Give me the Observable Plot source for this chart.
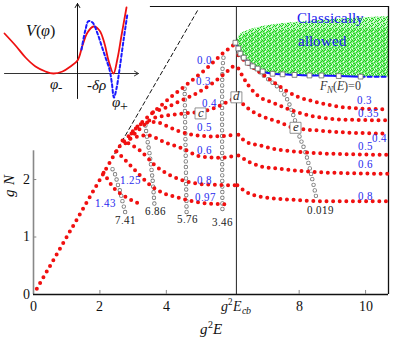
<!DOCTYPE html>
<html>
<head>
<meta charset="utf-8">
<script src="https://cdn.jsdelivr.net/npm/d3@7"></script>
<script src="https://cdn.jsdelivr.net/npm/@observablehq/plot@0.6"></script>
<style>
  @font-face { font-family: "PaperSerif"; font-style: normal; font-weight: 400;
    src: local("Liberation Serif"), local("LiberationSerif"), local("DejaVu Serif"), local("DejaVuSerif"); }
  @font-face { font-family: "PaperSerif"; font-style: italic; font-weight: 400;
    src: local("Liberation Serif Italic"), local("LiberationSerif-Italic"), local("DejaVu Serif Italic"), local("DejaVuSerif-Italic"); }
  @font-face { font-family: "PaperSerif"; font-style: normal; font-weight: 700;
    src: local("Liberation Serif Bold"), local("LiberationSerif-Bold"), local("DejaVu Serif Bold"), local("DejaVuSerif-Bold"); }
  html,body{margin:0;padding:0;background:#fff;}
  #wrap{position:relative;width:411px;height:345px;overflow:hidden;}
  #wrap svg{position:absolute;left:0;top:0;}
  #wrap svg, #wrap svg text, #wrap svg tspan{font-family:"PaperSerif","Liberation Serif","DejaVu Serif","Noto Serif",Tinos,Times,serif !important;}
</style>
</head>
<body>
<div id="wrap"></div>
<script>
const SERIF = "PaperSerif, Liberation Serif, DejaVu Serif, serif";

// ---------- axes ----------
const xTickValues = [0, 2, 4, 8, 10];
const xTickLabels = ["0", "2", "4", "8", "10"];
const ecbValue = 6.11;
const yTickValues = [0, 1, 2];
const yTickLabels = ["0", "1", "2"];

// ---------- red dotted curves (g^2 E , g N) ----------
const mainX = [0.10, 2.55, 3.07, 3.52, 4.19, 4.70, 5.21, 5.69, 6.11];
const mainY = [0.10, 2.55, 2.89, 3.13, 3.46, 3.69, 3.93, 4.19, 4.38];

const l03X = [3.60, 3.98, 4.43, 4.94, 5.42, 5.75, 6.11];
const l03Y = [3.17, 3.25, 3.37, 3.51, 3.69, 3.84, 4.02];
const l04X = [2.77, 3.22, 3.58, 3.98, 4.52, 5.03, 5.48, 5.87, 6.11];
const l04Y = [2.63, 2.89, 3.06, 3.11, 3.15, 3.18, 3.25, 3.36, 3.43];
const l05X = [2.95, 3.30, 3.67, 3.98, 4.34, 4.79, 5.39, 6.11];
const l05Y = [2.80, 2.98, 3.00, 2.94, 2.85, 2.78, 2.75, 2.78];
const l06X = [2.92, 3.43, 3.98, 4.49, 5.03, 5.63, 6.11];
const l06Y = [2.71, 2.77, 2.64, 2.54, 2.40, 2.38, 2.42];
const l08X = [2.68, 3.22, 3.67, 4.13, 4.73, 5.33, 6.11];
const l08Y = [2.68, 2.50, 2.24, 2.07, 1.95, 1.91, 1.90];
const l125X = [2.50, 2.71, 3.13, 3.52, 3.92, 4.34, 4.73, 5.33, 5.93];
const l125Y = [2.49, 2.37, 2.12, 1.90, 1.76, 1.69, 1.63, 1.58, 1.57];
const l143X = [2.11, 2.41, 2.77, 3.22];
const l143Y = [2.12, 1.86, 1.70, 1.57];

const r03X = [6.17, 6.54, 6.90, 7.29, 7.65, 7.95, 8.43, 9.46, 10.66];
const r03Y = [4.16, 3.98, 3.83, 3.67, 3.53, 3.44, 3.36, 3.25, 3.22];
const r035X = [6.17, 6.48, 6.75, 7.20, 7.65, 8.43, 9.46, 10.66];
const r035Y = [3.93, 3.63, 3.46, 3.34, 3.23, 3.10, 3.04, 3.03];
const r04X = [6.17, 6.48, 6.84, 7.44, 7.83, 8.64, 9.34, 10.66];
const r04Y = [3.39, 3.23, 3.11, 2.99, 2.90, 2.85, 2.82, 2.80];
const r05X = [6.17, 6.39, 6.84, 7.35, 7.83, 8.86, 10.66];
const r05Y = [2.78, 2.66, 2.59, 2.52, 2.49, 2.45, 2.43];
const r06X = [6.17, 6.48, 6.84, 7.35, 7.83, 8.86, 10.66];
const r06Y = [2.42, 2.31, 2.23, 2.19, 2.16, 2.12, 2.10];
const r08X = [6.14, 6.45, 6.84, 7.74, 8.86, 10.66];
const r08Y = [1.90, 1.77, 1.70, 1.65, 1.62, 1.62];

// ---------- open-circle curves ----------
const c741X = [2.38, 2.47, 2.53, 2.62, 2.68, 2.77];
const c741Y = [2.18, 2.07, 1.93, 1.77, 1.62, 1.41];
const c686X = [3.37, 3.43, 3.49, 3.58, 3.64];
const c686Y = [2.94, 2.68, 2.47, 2.03, 1.58];
const c576X = [4.55, 4.58, 4.61];
const c576Y = [3.58, 2.50, 1.43];
const c346X = [5.72, 5.69, 5.69];
const c346Y = [4.12, 3.90, 1.46];
const c0019X = [6.17, 6.93, 7.53, 7.83, 7.98, 8.19, 8.37, 8.52];
const c0019Y = [4.19, 3.81, 3.50, 3.11, 2.80, 2.47, 2.07, 1.67];

// ---------- F_N(E)=0 boundary & classically allowed region ----------
const boundaryX = [6.08, 6.17, 6.23, 6.33, 6.45, 6.60, 6.75, 6.90, 7.20, 7.50, 7.86, 8.31, 8.67, 9.19, 9.85];
const boundaryY = [4.38, 4.28, 4.19, 4.12, 4.03, 3.97, 3.93, 3.88, 3.84, 3.83, 3.82, 3.81, 3.81, 3.80, 3.79];
const boundaryTailX = [9.85, 10.69];
const boundaryTailY = [3.79, 3.79];
const allowedX = [6.08, 6.17, 6.23, 6.33, 6.45, 6.60, 6.75, 6.90, 7.20, 7.50, 7.86, 8.31, 8.67, 9.19, 9.85, 10.69];
const allowedLow = [4.38, 4.28, 4.19, 4.12, 4.03, 3.97, 3.93, 3.88, 3.84, 3.83, 3.82, 3.81, 3.81, 3.80, 3.79, 3.79];
const allowedMid = [4.40, 4.44, 4.47, 4.50, 4.53, 4.55, 4.56, 4.57, 4.58, 4.59, 4.60, 4.61, 4.62, 4.63, 4.63, 4.64];
const allowedHigh = [4.40, 4.47, 4.52, 4.56, 4.59, 4.62, 4.64, 4.66, 4.69, 4.71, 4.73, 4.75, 4.77, 4.79, 4.81, 4.83];

const diagX = [2.45, 4.97];
const diagY = [2.45, 4.97];

// ---------- labels ----------
const leftLabels = ["0.0", "0.3", "0.4", "0.5", "0.6", "0.8", "0.97", "1.25", "1.43"];
const leftLabelX = [5.15, 5.12, 5.30, 5.15, 5.15, 5.15, 5.18, 2.92, 2.17];
const leftLabelY = [4.07, 3.70, 3.32, 2.90, 2.50, 1.98, 1.69, 1.98, 1.58];
const rightLabels = ["0.3", "0.35", "0.4", "0.5", "0.6", "0.8"];
const rightLabelX = [9.97, 10.09, 10.42, 10.00, 10.00, 10.00];
const rightLabelY = [3.37, 3.15, 2.71, 2.57, 2.26, 1.70];
const circleLabels = ["7.41", "6.86", "5.76", "3.46", "0.019"];
const circleLabelX = [2.77, 3.67, 4.64, 5.69, 8.64];
const circleLabelY = [1.29, 1.44, 1.30, 1.25, 1.46];
const boxLetters = ["c", "d", "e"];
const boxX = [5.03, 6.11, 7.89];
const boxY = [3.15, 3.43, 2.90];

// ---------- inset potential ----------
const potX = [-3.65, -3.1, -2.6, -2.1, -1.6, -1.2, -0.75, -0.35, 0, 0.25, 0.5, 0.8, 1.1, 1.35, 1.55, 1.8, 2.0, 2.2, 2.45];
const potY = [2.0, 1.4, 0.8, 0.35, 0.1, 0, 0.1, 0.35, 0.65, 1.4, 2.05, 2.35, 2.15, 1.5, 0.65, 0, 0.75, 1.9, 3.3];
const dashPotX = [0.2, 0.4, 0.55, 0.75, 1.0, 1.2, 1.4, 1.6, 1.72, 1.82, 1.95, 2.1, 2.3, 2.5];
const dashPotY = [1.2, 2.2, 2.62, 2.55, 2.0, 1.4, 0.8, 0.2, -0.5, -1.2, -0.75, 0.2, 1.65, 3.0];

// ---------- helpers ----------
function rows(id, xs, ys) { return xs.map((x, i) => ({id, x, y: ys[i]})); }
function labelRows(texts, xs, ys) { return texts.map((t, i) => ({t, x: xs[i], y: ys[i]})); }

const redRows = [
  ...rows("l03", l03X, l03Y), ...rows("l04", l04X, l04Y), ...rows("l05", l05X, l05Y),
  ...rows("l06", l06X, l06Y), ...rows("l08", l08X, l08Y), ...rows("l125", l125X, l125Y),
  ...rows("l143", l143X, l143Y),
  ...rows("r03", r03X, r03Y), ...rows("r035", r035X, r035Y), ...rows("r04", r04X, r04Y),
  ...rows("r05", r05X, r05Y), ...rows("r06", r06X, r06Y), ...rows("r08", r08X, r08Y)
];
const mainRows = rows("main", mainX, mainY);
const circRows = [
  ...rows("c741", c741X, c741Y), ...rows("c686", c686X, c686Y), ...rows("c576", c576X, c576Y),
  ...rows("c346", c346X, c346Y), ...rows("c0019", c0019X, c0019Y)
];
const bRows = rows("b", boundaryX, boundaryY);
const bTail = rows("bt", boundaryTailX, boundaryTailY);
const greenRows = allowedX.map((x, i) => ({x, lo: allowedLow[i], mid: allowedMid[i], hi: allowedHigh[i]}));
const diagRows = rows("d", diagX, diagY);

const RED = "#f01010", BLUE = "#2a2aee", GRAYC = "#777";
const redDots = {x: "x", y: "y", stroke: RED, strokeWidth: 4, strokeLinecap: "round", strokeDasharray: "0 6.6"};
const TXT = {fontFamily: SERIF};

const main = Plot.plot({
  width: 411, height: 345,
  marginLeft: 33, marginRight: 23, marginTop: 6, marginBottom: 51,
  x: {domain: [0, 10.69], axis: null},
  y: {domain: [0, 5.01], axis: null},
  style: {background: "transparent", overflow: "visible", fontFamily: SERIF},
  marks: [
    Plot.areaY(greenRows, {x: "x", y1: "lo", y2: "hi", fill: "#b4f4b4", curve: "monotone-x"}),
    Plot.areaY(greenRows, {x: "x", y1: "lo", y2: "mid", fill: "#86ec86", curve: "monotone-x"}),
    Plot.areaY(greenRows, {x: "x", y1: "lo", y2: "hi", fill: "#010101", curve: "monotone-x"}),
    // frame
    Plot.ruleX([0], {y1: 0, y2: 2.5, stroke: "#888", strokeWidth: 1.6}),
    Plot.ruleY([0], {x1: 0, x2: 10.69, stroke: "#111", strokeWidth: 1.3}),
    Plot.ruleX([10.69], {y1: 0, y2: 5.01, stroke: "#111", strokeWidth: 1.3}),
    Plot.ruleY([5.01], {x1: 3.52, x2: 10.69, stroke: "#111", strokeWidth: 1}),
    Plot.ruleX([ecbValue], {y1: 0, y2: 5.01, stroke: "#222", strokeWidth: 1}),
    Plot.ruleX(xTickValues.filter(v => v > 0), {y1: 0, y2: 0.07, stroke: "#888"}),
    Plot.ruleY(yTickValues.filter(v => v > 0), {x1: 0, x2: 0.1, stroke: "#888"}),
    // tick labels
    Plot.text(xTickValues, {...TXT, x: d => d, text: (d, i) => xTickLabels[i], frameAnchor: "bottom", dy: 16, fontSize: 14, fill: "#111"}),
    Plot.text([ecbValue], {...TXT, x: d => d, text: () => "@ECB", frameAnchor: "bottom", dy: 16, fontSize: 14, fill: "#111"}),
    Plot.text(yTickValues, {...TXT, y: d => d, text: (d, i) => yTickLabels[i], frameAnchor: "left", dx: -11, fontSize: 14, fill: "#111"}),
    Plot.text(["g N"], {...TXT, y: 1.69, frameAnchor: "left", dx: -24, rotate: -90, fontSize: 15, fontStyle: "italic", fill: "#111"}),
    Plot.text(["@XLAB"], {...TXT, x: 5.36, frameAnchor: "bottom", dy: 39, fontSize: 15, fill: "#111"}),
    // diagonal dashed
    Plot.line(diagRows, {x: "x", y: "y", stroke: "#111", strokeWidth: 1, strokeDasharray: "4 3"}),
    // open circles
    Plot.line(circRows, {x: "x", y: "y", z: "id", stroke: GRAYC, strokeWidth: 4.4, strokeLinecap: "round", strokeDasharray: "0 5.6", curve: "catmull-rom"}),
    Plot.line(circRows, {x: "x", y: "y", z: "id", stroke: "white", strokeWidth: 2.7, strokeLinecap: "round", strokeDasharray: "0 5.6", curve: "catmull-rom"}),
    // red dots
    Plot.line(mainRows, {...redDots}),
    Plot.line(redRows, {...redDots, z: "id", curve: "monotone-x"}),
    // boundary
    Plot.line(bRows, {x: "x", y: "y", stroke: "#1515ff", strokeWidth: 2, curve: "monotone-x"}),
    Plot.line(bTail, {x: "x", y: "y", stroke: "#1515ff", strokeWidth: 2, strokeDasharray: "4 3"}),
    Plot.dot(bRows, {x: "x", y: "y", symbol: "square", r: 2.7, fill: "white", stroke: "#666", strokeWidth: 0.8}),
    // letter boxes
    Plot.dot(labelRows(boxLetters, boxX, boxY), {x: "x", y: "y", symbol: "square", r: 6.2, fill: "white", stroke: "#777", strokeWidth: 0.8}),
    Plot.text(labelRows(boxLetters, boxX, boxY), {...TXT, x: "x", y: "y", text: "t", fontSize: 13, fontStyle: "italic", fill: "#333", dy: -1}),
    // labels
    Plot.text(labelRows(leftLabels, leftLabelX, leftLabelY), {...TXT, x: "x", y: "y", text: "t", fontSize: 11, fill: BLUE}),
    Plot.text(labelRows(rightLabels, rightLabelX, rightLabelY), {...TXT, x: "x", y: "y", text: "t", fontSize: 11, fill: BLUE}),
    Plot.text(labelRows(circleLabels, circleLabelX, circleLabelY), {...TXT, x: "x", y: "y", text: "t", fontSize: 11, fill: "#222"}),
    Plot.text(["Classically"], {...TXT, x: 8.95, y: 4.80, fontSize: 14.5, fill: "#1a1aee"}),
    Plot.text(["allowed"], {...TXT, x: 8.70, y: 4.40, fontSize: 14.5, fill: "#1a1aee"}),
    Plot.text(["@FN"], {...TXT, x: 9.25, y: 3.63, fontSize: 12, fill: "#333"})
  ]
});

const inset = Plot.plot({
  width: 140, height: 110, margin: 0,
  x: {domain: [-3.85, 3.15], axis: null},
  y: {domain: [-1.85, 3.65], axis: null},
  style: {background: "transparent", overflow: "visible", fontFamily: SERIF},
  marks: [
    Plot.arrow([0], {x1: -3.65, y1: 0, x2: 3.05, y2: 0, stroke: "#333", strokeWidth: 1, headLength: 7}),
    Plot.arrow([0], {x1: 0, y1: -1.25, x2: 0, y2: 3.5, stroke: "#111", strokeWidth: 1, headLength: 7}),
    Plot.line(rows("p", potX, potY), {x: "x", y: "y", stroke: "#ee1111", strokeWidth: 1.8, curve: "catmull-rom"}),
    Plot.line(rows("q", dashPotX, dashPotY), {x: "x", y: "y", stroke: "#1a1aff", strokeWidth: 2, strokeDasharray: "3 2.5", curve: "catmull-rom"}),
    Plot.text(["@V"], {...TXT, x: -1.85, y: 2.15, fontSize: 16, fill: "#111"}),
    Plot.text(["@PM"], {...TXT, x: -1.1, y: -0.55, fontSize: 15, fill: "#111"}),
    Plot.text(["@DR"], {...TXT, x: 0.95, y: -0.6, fontSize: 15, fill: "#111"}),
    Plot.text(["@PP"], {...TXT, x: 2.1, y: -1.45, fontSize: 15, fill: "#111"})
  ]
});

function rich(svg, key, parts) {
  d3.select(svg).selectAll("text").filter(function () { return this.textContent === key; }).each(function () {
    const t = d3.select(this);
    t.text(null);
    for (const p of parts) {
      const s = t.append("tspan").text(p.t);
      if (p.i) s.attr("font-style", "italic");
      if (p.s) s.attr("font-size", p.s);
      if (p.dy) s.attr("dy", p.dy);
    }
  });
}
rich(main, "@ECB", [{t: "g", i: 1}, {t: "2", s: 9, dy: -6}, {t: "E", i: 1, dy: 6}, {t: "cb", i: 1, s: 10, dy: 3}]);
rich(main, "@XLAB", [{t: "g", i: 1}, {t: "2", s: 10, dy: -6}, {t: "E", i: 1, dy: 6}]);
rich(main, "@FN", [{t: "F", i: 1}, {t: "N", i: 1, s: 9, dy: 3}, {t: "(", dy: -3}, {t: "E", i: 1}, {t: ")=0"}]);
rich(inset, "@V", [{t: "V", i: 1}, {t: "("}, {t: "φ", i: 1}, {t: ")"}]);
rich(inset, "@PM", [{t: "φ", i: 1}, {t: "-", s: 13, dy: 3}]);
rich(inset, "@DR", [{t: "-"}, {t: "δρ", i: 1}]);
rich(inset, "@PP", [{t: "φ", i: 1}, {t: "+", s: 14, dy: 4}]);

for (const svg of [main, inset]) {
  d3.select(svg).selectAll("text, tspan").attr("font-family", SERIF).style("font-family", SERIF);
}

// speckle texture for the classically allowed cloud
const defs = d3.select(main).insert("defs", ":first-child");
const pat = defs.append("pattern").attr("id", "speck").attr("width", 6).attr("height", 5).attr("patternUnits", "userSpaceOnUse");
[[0, 0], [3, 1], [5, 3], [1, 4], [2, 2], [4, 0], [0, 3], [3, 4], [5, 1]].forEach(([a, b]) =>
  pat.append("rect").attr("x", a).attr("y", b).attr("width", 1).attr("height", 1).attr("fill", "#1ad41a"));
[[1, 1], [4, 3], [2, 4]].forEach(([a, b]) =>
  pat.append("rect").attr("x", a).attr("y", b).attr("width", 1).attr("height", 1).attr("fill", "#ffffff"));
d3.select(main).selectAll('[fill="#010101"]').attr("fill", "url(#speck)");

const wrap = document.getElementById("wrap");
wrap.appendChild(main);
wrap.appendChild(inset);
</script>
</body>
</html>
